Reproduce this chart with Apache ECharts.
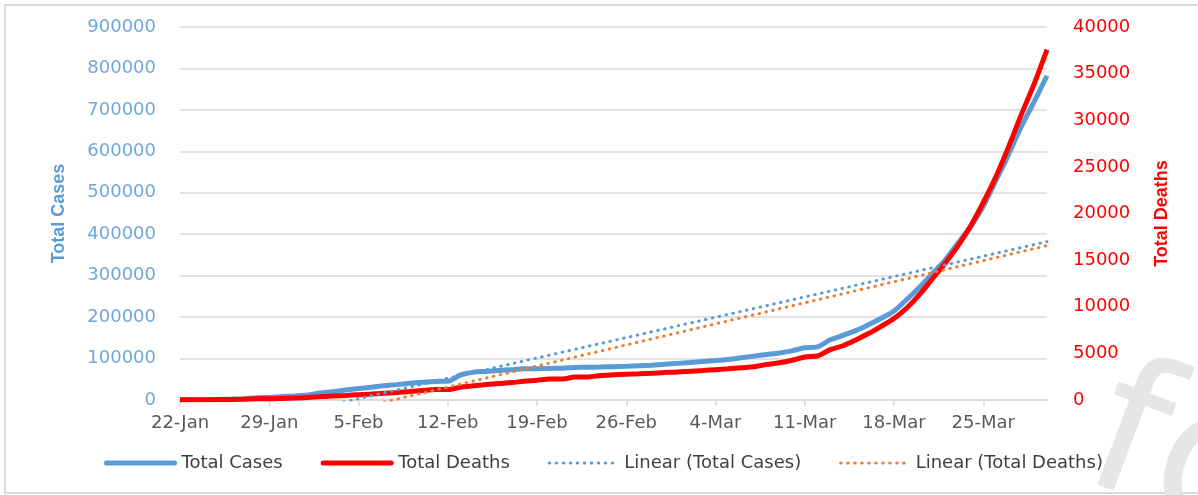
<!DOCTYPE html>
<html>
<head>
<meta charset="utf-8">
<script src="https://cdn.jsdelivr.net/npm/echarts@6/dist/echarts.min.js"></script>
<style>
  html, body { margin: 0; padding: 0; background: #fff; }
  #chart { width: 1198px; height: 495px; }
</style>
</head>
<body>
<div id="chart"></div>
<script>
var dates = [
  '22-Jan', '23-Jan', '24-Jan', '25-Jan', '26-Jan', '27-Jan', '28-Jan',
  '29-Jan', '30-Jan', '31-Jan', '1-Feb', '2-Feb', '3-Feb', '4-Feb',
  '5-Feb', '6-Feb', '7-Feb', '8-Feb', '9-Feb', '10-Feb', '11-Feb',
  '12-Feb', '13-Feb', '14-Feb', '15-Feb', '16-Feb', '17-Feb', '18-Feb',
  '19-Feb', '20-Feb', '21-Feb', '22-Feb', '23-Feb', '24-Feb', '25-Feb',
  '26-Feb', '27-Feb', '28-Feb', '29-Feb', '1-Mar', '2-Mar', '3-Mar',
  '4-Mar', '5-Mar', '6-Mar', '7-Mar', '8-Mar', '9-Mar', '10-Mar',
  '11-Mar', '12-Mar', '13-Mar', '14-Mar', '15-Mar', '16-Mar', '17-Mar',
  '18-Mar', '19-Mar', '20-Mar', '21-Mar', '22-Mar', '23-Mar', '24-Mar',
  '25-Mar', '26-Mar', '27-Mar', '28-Mar', '29-Mar', '30-Mar'
];

var totalCases = [
  555, 654, 941, 1434, 2118, 2927, 5578,
  6166, 8234, 9927, 12038, 16787, 19881, 23892,
  27635, 30794, 34391, 37120, 40150, 42762, 44802,
  45221, 60368, 66885, 69030, 71224, 73258, 75136,
  75639, 76197, 76819, 78572, 78958, 79561, 80406,
  81388, 82746, 84112, 86011, 88369, 90306, 92840,
  95120, 97886, 101801, 105847, 109821, 113590, 118620,
  125875, 128352, 145205, 156101, 167454, 181574, 197102,
  214821, 242570, 272208, 304507, 336953, 378235, 418045,
  467653, 529591, 593291, 660706, 720117, 782365
];

var totalDeaths = [
  17, 18, 26, 42, 56, 82, 131,
  133, 171, 213, 259, 362, 426, 492,
  564, 634, 719, 806, 906, 1013, 1113,
  1118, 1371, 1523, 1666, 1770, 1868, 2007,
  2122, 2247, 2251, 2458, 2469, 2629, 2708,
  2770, 2814, 2872, 2941, 2996, 3085, 3160,
  3254, 3348, 3460, 3558, 3802, 3988, 4262,
  4615, 4720, 5404, 5819, 6440, 7126, 7905,
  8733, 9867, 11299, 12973, 14651, 16505, 18625,
  21181, 23970, 27198, 30652, 33925, 37582
];

// trendline ends (first and last day)
var trendCases = [-95000, 382000];
var trendDeaths = [-5400, 16560];

var casesTicks = [0, 900000, 100000];
var deathsTicks = [0, 40000, 5000];

var labelFont = 'DejaVu Sans';
var blue = '#5B9BD5';
var red = '#FF0000';
var orange = '#ED7D31';

var chart = echarts.init(document.getElementById('chart'));

function plain(v) { return String(v); }

var option = {
  animation: false,
  backgroundColor: '#fff',
  textStyle: { fontFamily: labelFont },
  grid: { left: 180, right: 151, top: 27, bottom: 95 },
  legend: {
    bottom: 18,
    left: 99,
    itemWidth: 68,
    itemHeight: 14,
    itemGap: 38,
    itemStyle: { opacity: 0 },
    textStyle: { fontSize: 18, color: '#404040', fontFamily: labelFont, padding: [0, 0, 0, 2] },
    data: [
      { name: 'Total Cases', lineStyle: { width: 5, cap: 'round' } },
      { name: 'Total Deaths', lineStyle: { width: 5, cap: 'round' } },
      { name: 'Linear (Total Cases)', lineStyle: { width: 3, type: [0.5, 6.5], cap: 'round' } },
      { name: 'Linear (Total Deaths)', lineStyle: { width: 3, type: [0.5, 6.5], cap: 'round' } }
    ]
  },
  xAxis: {
    type: 'category',
    data: dates,
    boundaryGap: false,
    axisLine: { lineStyle: { color: '#d9d9d9', width: 1.5 } },
    axisTick: { interval: 6, length: 6, lineStyle: { color: '#d9d9d9', width: 1.5 } },
    axisLabel: { interval: 6, color: '#595959', fontSize: 18, margin: 14 },
    splitLine: { show: false }
  },
  yAxis: [{
    type: 'value',
    min: casesTicks[0],
    max: casesTicks[1],
    interval: casesTicks[2],
    name: 'Total Cases',
    nameLocation: 'middle',
    nameGap: 112,
    nameTextStyle: { color: blue, fontSize: 18, fontWeight: 'bold', fontFamily: 'Liberation Sans' },
    axisLine: { show: false },
    axisTick: { show: false },
    axisLabel: { color: '#6FA8DC', fontSize: 18, margin: 24, formatter: plain },
    splitLine: { lineStyle: { color: '#d9d9d9', width: 1.5 } }
  }, {
    type: 'value',
    min: deathsTicks[0],
    max: deathsTicks[1],
    interval: deathsTicks[2],
    name: 'Total Deaths',
    nameLocation: 'middle',
    nameGap: 106,
    nameTextStyle: { color: red, fontSize: 18, fontWeight: 'bold', fontFamily: 'Liberation Sans' },
    axisLine: { show: false },
    axisTick: { show: false },
    axisLabel: { color: red, fontSize: 18, margin: 26, formatter: plain },
    splitLine: { show: false }
  }],
  series: [{
    name: 'Total Cases',
    type: 'line',
    yAxisIndex: 0,
    data: totalCases,
    smooth: 0.3,
    symbol: 'none',
    lineStyle: { color: blue, width: 5 },
    itemStyle: { color: blue }
  }, {
    name: 'Total Deaths',
    type: 'line',
    yAxisIndex: 1,
    data: totalDeaths,
    smooth: 0.3,
    symbol: 'none',
    lineStyle: { color: red, width: 5 },
    itemStyle: { color: red }
  }, {
    name: 'Linear (Total Cases)',
    type: 'line',
    yAxisIndex: 0,
    data: [[dates[0], trendCases[0]], [dates[dates.length - 1], trendCases[1]]],
    symbol: 'none',
    clip: true,
    lineStyle: { color: blue, width: 3, type: [0.5, 6.5], cap: 'round' },
    itemStyle: { color: blue }
  }, {
    name: 'Linear (Total Deaths)',
    type: 'line',
    yAxisIndex: 1,
    data: [[dates[0], trendDeaths[0]], [dates[dates.length - 1], trendDeaths[1]]],
    symbol: 'none',
    clip: true,
    lineStyle: { color: orange, width: 3, type: [0.5, 6.5], cap: 'round' },
    itemStyle: { color: orange }
  }],
  graphic: [{
    type: 'rect',
    silent: true,
    z: -10,
    shape: { x: 5, y: 5, width: 1210, height: 488 },
    style: { fill: 'none', stroke: '#d9d9d9', lineWidth: 2 }
  }, {
    type: 'text',
    silent: true,
    z: -8,
    x: 1062,
    y: 520,
    rotation: -0.36,
    style: {
      text: 'fo',
      font: '190px "DejaVu Sans"',
      fill: '#e6e6e6',
      verticalAlign: 'bottom'
    }
  }]
};

chart.setOption(option);
</script>
</body>
</html>
